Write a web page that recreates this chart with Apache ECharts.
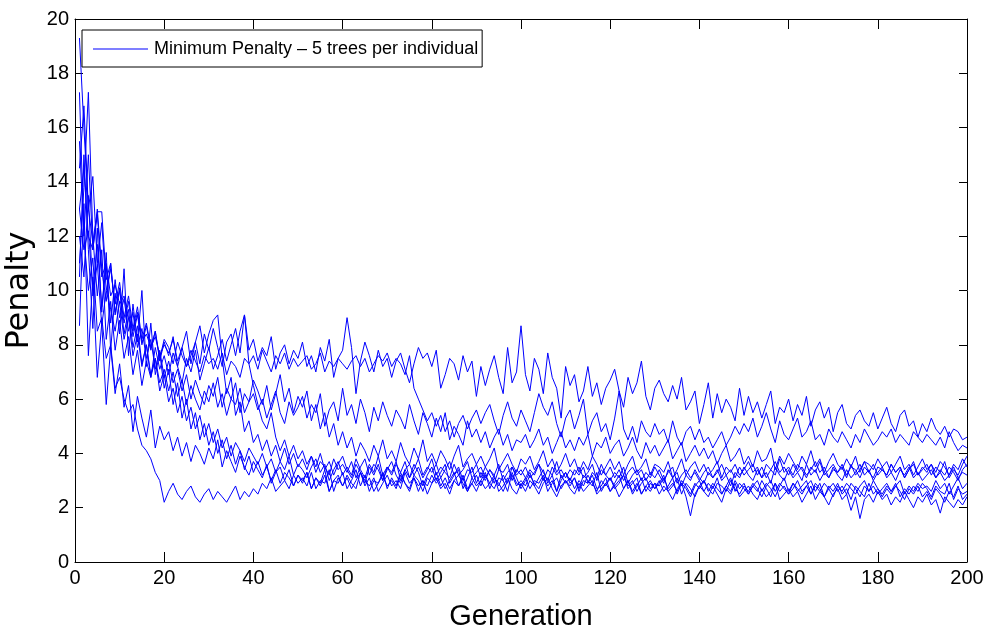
<!DOCTYPE html>
<html>
<head>
<meta charset="utf-8">
<script src="https://cdn.jsdelivr.net/npm/echarts@6/dist/echarts.min.js"></script>
<style>
html,body{margin:0;padding:0;background:#fff;}
#chart{width:989px;height:637px;}
</style>
</head>
<body>
<div id="chart"></div>
<script>
// Generations 1..200
const seriesName = 'Minimum Penalty \u2013 5 trees per individual';
const xTicks = [0,20,40,60,80,100,120,140,160,180,200];
const yTicks = [0,2,4,6,8,10,12,14,16,18,20];

const run1 = [13,14.5,12,11.5,12.8,10.5,11,9.8,10.2,9.5,
9.8,9,8.5,9.2,8.1,8.4,7.9,8.3,7.6,8,
7.7,8.2,7.4,7.9,7.2,7.6,8.1,7.3,8.4,7.8,
8.6,7.9,7.2,8.1,8.4,7.6,8.5,9.1,7.8,8.2,
7.4,7.9,7.6,8.3,7.1,7.7,8,7.3,7.8,7.5,
8.1,7.2,7.6,7,7.9,7.4,8.2,6.8,7.5,7.8,
9,7.9,6.2,7.4,8.1,7.6,7,7.8,7.2,7.5,
6.8,7.4,7.7,7.1,6.6,7.3,7.9,7.5,7.7,7.2,
7.8,6.4,6.9,7.5,7.3,6.7,7.6,7,7.4,6.1,
7.2,6.5,7.1,7.6,6.8,6.2,7.9,6.6,7,8.7,
6.9,6.3,7.5,7.1,6.2,7.7,6.8,6.4,5.3,7.2,
6.5,6.9,5.9,6.3,7.2,6.1,6.6,5.8,6.4,6.7,
7.1,6.3,5.7,6.8,6.2,6.6,7.4,6.1,5.6,6.4,
6.7,6.2,5.9,6.5,6,6.8,5.6,5.9,6.3,5.1,
5.8,6.6,5.3,6.2,5.5,6,5.7,5.2,6.4,5.4,
6.1,5.5,5.9,5.3,5.8,6.3,5.1,5.7,5.5,6,
5.2,5.8,5.4,6.1,5,5.6,5.9,5.3,5.7,4.8,
5.5,5.8,5.1,4.9,5.4,5.6,5.2,5,5.5,4.9,
5.3,5.7,5.1,4.8,5.4,5.6,5,5.2,4.6,5.1,
4.8,5.3,4.9,4.7,5,4.6,4.9,4.8,4.5,4.6];

const run2 = [17.3,12,15,11.5,13,10.8,9.6,11,9.2,10,
8.8,9.6,8.3,9.1,8,8.7,7.8,8.5,7.5,8.2,
7.9,7.3,8.1,7.6,7.2,7.8,7.4,7,7.6,7.3,
7.5,7.1,7.7,6.9,7.4,7.2,6.8,7.5,7.3,7.6,
7.1,7.8,7.4,7,7.6,7.3,7.7,7.1,7.5,7.2,
7.4,7.6,7.1,7.3,7.7,7,7.4,7.2,7.5,7.3,
7.1,7.4,7.6,7.2,7.5,7,7.3,7.6,7.4,7.7,
7.2,7.5,7.3,6.9,7.6,6.4,6,5.6,5.2,5.5,
5,5.4,4.8,5.2,4.6,5.1,5.4,4.9,5.3,5.6,
5.1,5.5,5.8,5.2,4.7,5.4,5.9,5.3,5,5.6,
5.2,4.8,5.5,6.2,5.7,5.4,5.9,5.1,4.6,5.3,
5.6,4.9,5.4,6,4.7,5.2,5.5,4.8,5.1,4.5,
5.3,6.3,4.9,4.5,5,4.4,5.2,4.8,4.6,5.1,
4.7,4.9,4.4,5.2,4.6,4.3,4.8,5,4.5,4.9,
4.4,4.6,4.2,4.5,4.8,4.3,4.6,5,4.7,5.1,
4.8,5.3,4.6,5,5.5,4.9,4.4,5.2,4.7,4.5,
4.9,5.3,4.6,4.8,5.2,4.5,4.7,4.3,4.9,4.6,
4.4,4.8,4.5,4.2,4.7,4.4,4.9,4.6,4.3,4.5,
4.8,4.6,4.9,4.4,4.7,4.5,4.3,4.8,4.6,4.4,
4.7,4.5,4.3,4.6,4.2,4.8,4.4,4.1,4.3,4.2];

const run3 = [12,10.5,13.5,9.8,11,8.7,10,9.3,8.5,9.6,
8.2,9,7.6,8.4,7.2,8,6.8,7.5,6.6,7.1,
6.3,7,6.1,6.7,5.8,6.5,6,5.6,6.3,5.9,
6.6,5.7,6.2,5.4,6,5.8,6.4,5.5,5.9,6.2,
5.6,6,5.3,5.8,6.3,5.5,5.1,5.9,5.4,5.7,
6.1,5.3,5.8,5.5,6.2,5,5.6,5.9,5.2,6.4,
5.4,5.8,5.1,6,5.5,4.8,5.7,5.2,5.9,5.4,
5,5.6,5.3,4.9,5.8,5.2,4.7,5.5,5.1,4.6,
5.3,4.8,5.5,4.5,5,4.7,4.3,5.2,4.6,4.9,
4.4,4.8,4.2,4.6,4.9,4.3,4.7,4.1,4.5,4.4,
4.7,4.2,4.5,4.9,4.3,4.6,4,4.4,4.8,4.2,
4.5,4.1,4.6,4.3,4.7,3.9,4.4,4.2,4.6,4,
4.3,4.5,3.9,4.2,4.6,4.1,3.8,4.4,4,4.3,
3.9,4.2,4.5,3.8,4.1,4.4,3.7,4,4.3,3.9,
4.2,3.8,4.1,3.6,4,4.3,3.7,3.9,4.2,3.6,
3.9,3.5,4.1,3.7,3.8,4.2,3.4,3.9,3.6,4,
3.7,3.4,3.9,3.6,4.1,3.5,3.8,3.3,3.7,4,
3.6,3.4,3.8,3.5,3.9,3.3,3.7,3.6,3.4,3.8,
3.5,3.7,3.3,3.6,3.9,3.4,3.6,3.2,3.5,3.8,
3.4,3.6,3.3,3.7,3.5,3.2,3.6,3.4,3.8,3.5];

const run4 = [15.5,12,10,11.2,8.5,9,7.5,8,6.4,6.8,
6,5.5,5.8,4.9,4.3,4.1,3.8,3.3,3,2.2,
2.6,2.9,2.5,2.3,2.6,2.8,2.4,2.2,2.5,2.7,
2.3,2.6,2.4,2.2,2.5,2.8,2.3,2.6,2.4,2.7,
2.5,2.9,2.7,3.1,2.6,2.8,3,2.7,3.2,2.9,
3.1,2.8,3.3,2.7,3,2.9,3.4,2.6,3.1,2.8,
3.2,2.9,2.7,3.3,3,2.8,3.1,2.6,2.9,3.2,
2.8,3,2.7,3.3,2.9,3.1,2.6,3,2.8,3.2,
2.9,3.1,2.7,3,3.3,2.8,3.1,2.6,2.9,3.2,
2.8,3.2,2.9,2.7,3.1,3,2.6,3.3,2.9,2.8,
3.1,2.7,3,2.9,3.2,2.6,2.9,3.1,2.7,3,
2.8,3.1,2.6,3,2.9,3.2,2.7,2.8,3.1,2.6,
2.9,3.2,2.7,3,2.5,2.8,3.1,2.6,2.9,2.7,
3,2.6,2.8,3.1,2.5,2.9,2.7,2.4,2.8,3,
2.6,2.9,2.7,3.1,2.5,2.8,2.6,3,2.7,2.9,
2.5,2.8,3,2.6,2.9,2.7,2.4,2.8,3.1,2.6,
2.9,2.7,2.5,2.8,3,2.6,2.9,2.4,2.7,2.9,
2.6,2.8,2.5,2.9,2.7,2.4,2.8,2.6,3,2.7,
2.5,2.8,2.6,2.9,2.4,2.7,2.5,2.8,2.6,2.9,
2.7,2.4,2.8,2.6,2.5,2.9,2.3,2.7,2.5,2.6];

const run5 = [19.3,16,13,14.2,11,12.5,10,10.8,9.5,10.3,
9,9.8,8.6,9.4,8.2,8.8,7.9,8.5,7.4,8.1,
7.6,8.3,7.2,7.9,8.5,7.3,8.1,8.7,7.7,8.4,
8.9,9.1,7.5,6.2,6.8,5.4,5.9,4.8,5.2,4.4,
4.7,4.1,4.5,3.9,4.3,3.7,4.2,3.6,4,3.5,
3.8,3.4,3.9,3.3,3.7,3.5,3.2,3.8,3.4,3.6,
3.3,3.7,3.1,3.5,3.8,3.2,3.6,3.4,3,3.5,
3.2,3.6,3.3,3.7,3.1,3.4,3.8,3.2,3.5,3.3,
3.6,3.1,3.4,3.7,3.2,3.5,3,3.4,3.3,3.6,
3.1,3.5,3.2,2.9,3.4,3.3,3.6,3,3.4,3.2,
3.5,3.1,3.3,3.6,3,3.4,3.2,3.7,3.1,3.3,
3,3.4,3.2,3.5,2.9,3.3,3.1,3.6,3.2,3,
3.3,3.1,3.5,2.9,3.2,3.4,3,3.3,3.1,3.5,
3.2,2.9,3.4,3.1,3.3,2.8,3.2,3,3.4,3.1,
2.9,3.3,3.1,3.4,3,3.2,2.8,3.3,3.1,3.5,
3.2,3,3.4,3.1,3.3,2.9,3.5,3.2,3,3.4,
3.1,3.3,3,3.6,3.2,3.4,3,3.3,3.1,3.5,
3.2,3,3.4,3.1,3.3,3.6,3.2,3.4,3,3.3,
3.5,3.1,3.3,3,3.4,3.2,3.5,3.1,3.3,3,
3.2,3.4,3.1,3.3,3,3.2,3.5,3.1,3.3,3.2];

const run6 = [11,13.8,17.3,12,9.8,11.5,8.2,9.6,7.8,8.9,
7.5,8.3,6.9,7.8,6.5,7.4,6.8,7.9,7.1,7.6,
6.9,7.7,7.2,6.6,7.5,7,7.8,6.7,7.3,7.9,
7.1,7.6,8.2,7.4,8,8.6,7.7,9.1,7.3,6.5,
5.8,5.2,4.9,5.5,4.6,4.1,4.5,3.9,4.3,3.8,
4.1,3.6,3.9,3.5,4,3.4,3.7,3.2,3.6,3.9,
3.4,3.1,3.6,3.3,2.9,3.5,3.2,3.6,3,3.4,
3.7,3.2,2.9,3.4,3.1,3.6,3.3,2.8,3.2,3.5,
3,3.3,3.6,2.9,3.2,3.4,2.7,3.1,3.5,2.9,
3.3,3,3.4,3.1,2.8,3.2,2.9,3.5,3.1,2.7,
3,3.3,2.8,3.1,3.4,2.9,3.2,2.6,3,3.3,
2.9,3.1,2.7,3.2,3,2.8,3.3,2.6,2.9,3.1,
2.8,3,3.2,2.7,2.9,3.1,2.5,2.8,3,2.7,
2.9,3.2,2.6,2.8,3.1,2.5,2.9,2.7,2.4,2.8,
3,2.6,2.9,2.7,2.5,2.8,3.1,2.6,2.9,2.7,
2.5,2.8,2.6,3,2.7,2.4,2.9,2.6,2.8,2.5,
2.7,3,2.6,2.8,2.5,2.9,2.7,2.4,2.8,2.6,
2.9,2.5,2.7,2.3,2.8,2.6,2.4,2.9,2.5,2.7,
2.4,2.7,2.5,2.8,2.6,2.3,2.7,2.5,2.8,2.4,
2.6,2.3,2.7,2.5,2.2,2.6,2.4,2.8,2.3,2.5];

const run7 = [14.5,16.8,13,11.8,12.9,12.9,10.4,11,9.1,10.1,
8.4,9.3,7.9,8.7,7.3,8,6.9,7.5,6.3,6.9,
5.9,6.4,5.5,6.1,5.2,5.7,4.9,5.4,4.6,5.1,
4.4,4.9,4.2,4.6,3.9,4.4,4.1,3.7,4.2,3.9,
3.6,4,3.5,3.8,3.3,3.7,3.4,3.9,3.2,3.6,
3.4,3.1,3.5,3.8,3.3,3.6,3,3.4,3.7,3.2,
3.5,3.2,3.8,3.4,3.1,3.6,3.3,3.9,3.2,3.5,
3.3,3.7,3,3.4,3.6,3.2,3.5,3.1,3.4,3.8,
3.2,3.5,3.3,3.1,3.6,3.2,3.4,3.7,3.1,3.3,
3.5,3.1,3.4,3.2,3.6,3,3.3,3.5,3.2,3.4,
3.1,3.4,3.2,3.6,3.3,3,3.5,3.2,3.4,3.1,
3.4,3.2,3.5,3.1,3.3,3.6,3,3.4,3.2,3.5,
3.1,3.4,3,3.3,3.5,3.2,3.4,3,3.3,3.1,
3.4,3,3.3,3.5,2.9,3.2,3.4,3.1,3.3,3,
3.3,3.5,3.1,3.3,3.6,3.2,3.4,3.1,3.5,3.2,
3.4,3.6,3.2,3.5,3.1,3.4,3.7,3.3,3.5,3.2,
3.6,3.3,3.5,3.2,3.4,3.7,3.3,3.5,3.1,3.4,
3.3,3.6,3.2,3.5,3.4,3.1,3.5,3.3,3.6,3.2,
3.4,3.2,3.6,3.3,3.5,3.1,3.4,3.6,3.2,3.5,
3.3,3.6,3.1,3.4,3.2,3.5,3.3,3,3.4,3.6];

const run8 = [8.7,13.2,7.6,10.5,6.8,8.8,5.8,7.9,6.2,7.3,
5.7,6.5,4.8,6.1,5.3,4.6,5.6,4.2,5,4.5,
4.8,4.1,4.6,3.9,4.4,3.7,4.3,4,3.6,4.2,
3.8,4.5,3.5,4.1,3.7,3.3,3.9,3.5,3.2,3.7,
3.4,3.1,3.6,2.9,3.3,3.5,3,3.4,2.8,3.2,
3,3.3,2.7,3.1,2.9,3.4,2.6,3,3.2,2.8,
3.1,2.7,3,3.3,2.8,3.1,2.6,2.9,3.2,2.8,
3,2.7,3.2,2.9,2.6,3.1,2.8,3,2.5,2.9,
3.1,2.7,2.9,2.5,3,2.8,3.2,2.7,2.9,2.6,
3,2.7,2.9,3.2,2.6,2.8,3.1,2.7,2.5,2.9,
2.6,3,2.8,2.5,2.9,3.1,2.7,2.4,2.8,3,
2.7,2.5,2.9,2.6,2.8,3,2.5,2.7,2.9,2.6,
2.8,2.4,2.7,3,2.6,2.9,2.5,2.8,2.6,2.9,
2.5,2.8,2.6,2.3,2.7,2.9,2.4,1.7,2.5,2.8,
2.6,2.4,2.8,2.5,2.2,2.7,2.5,2.9,2.4,2.6,
2.8,2.5,2.3,2.7,2.4,2.6,2.9,2.3,2.5,2.7,
2.4,2.6,2.2,2.5,2.8,2.3,2.6,2.4,2.1,2.5,
2.7,2.3,2.5,1.9,2.4,1.6,2.3,2.5,2.2,2.6,
2.3,2.5,2.1,2.4,2.2,2.6,2.3,2,2.4,2.2,
2.5,2.1,2.3,1.8,2.4,2.2,2,2.3,2.1,2.4];

const run9 = [13,11.5,12.2,10,11.7,9.4,10.9,8.8,10.4,9,
9.7,8.5,9.2,7.9,8.6,7.5,8.2,7.1,7.8,6.8,
7.4,6.6,7.1,6.3,6.9,6,6.7,6.2,5.8,6.5,
6.1,6.8,5.7,6.4,6,6.6,5.5,6.2,5.9,6.7,
6.3,5.8,6.5,5.6,6.2,6.9,5.9,6.4,5.5,6.1,
5.7,6.3,5.2,5.8,4.9,5.5,4.6,5.1,4.3,4.8,
4.2,4.6,3.9,4.4,4.1,3.7,4.3,3.9,4.5,3.8,
4.1,3.7,4.4,3.9,3.6,4.2,3.8,4.5,3.7,4,
3.6,4.1,3.8,3.4,3.9,4.3,3.5,3.8,4,3.6,
3.9,3.5,3.8,4.2,3.4,3.7,4,3.6,3.3,3.8,
3.6,3.9,3.4,3.7,4.1,3.5,3.8,3.3,3.6,4,
3.5,3.8,3.3,3.7,3.4,3.9,3.6,3.2,3.5,3.8,
3.4,3.7,3.2,3.6,3.9,3.3,3.5,3.8,3.2,3.6,
3.5,3.3,3.7,3.1,3.4,3.8,3.2,3.5,3.7,3.3,
3.6,3.2,3.4,3.7,3.1,3.5,3.3,3.6,3.2,3.4,
3.7,3.3,3.5,3.1,3.6,3.4,3.2,3.8,3.3,3.5,
3.2,3.6,3.4,3.1,3.5,3.3,3.7,3.2,3.4,3.6,
3.3,3.5,3.1,3.6,3.2,3.4,3.7,3.3,3.1,3.5,
3.4,3.2,3.6,3.3,3.5,3.1,3.4,3.7,3.2,3.4,
3.6,3.2,3.5,3.3,3.7,3.1,3.4,3.2,3.6,3.9];

const run10 = [10.5,15,11.5,8.6,12.3,9.2,11.4,7.8,9.9,8.4,
10.8,7.6,9.5,8.1,10,7.2,8.8,6.9,7.7,6.4,
7.1,5.8,6.6,5.3,6,4.9,5.5,4.5,5.1,4.3,
4.8,4,4.5,3.8,4.3,3.6,4.1,3.4,3.9,3.3,
3.7,3.2,3.5,3,3.4,2.9,3.3,3.1,2.8,3.2,
2.9,3.3,2.7,3.1,2.8,3.2,2.6,3,2.9,3.3,
2.7,3,3.4,2.8,3.2,2.6,3,2.9,3.3,2.7,
3.1,2.8,3.3,2.9,2.7,3.2,3,2.6,3.1,2.9,
3.3,2.8,3.1,2.7,3,3.2,2.9,2.6,3.1,2.8,
3,3.3,2.7,3.1,2.9,2.6,3,3.2,2.8,3,
2.8,3.2,2.9,2.7,3.1,2.8,3,2.6,3.2,2.9,
3.1,2.7,3,2.8,3.2,2.9,2.6,3,2.8,3.1,
2.7,2.9,3.2,2.8,3,2.6,2.9,3.1,2.7,2.9,
2.8,3.1,2.7,2.9,2.6,3,2.8,2.5,2.9,2.7,
3,2.7,2.5,2.9,2.8,2.6,3,2.7,2.5,2.8,
2.6,2.9,2.7,2.4,2.8,3,2.6,2.9,2.7,2.5,
2.9,2.6,2.8,3,2.5,2.8,2.6,2.9,2.7,2.4,
2.8,2.6,2.9,2.7,2.5,2.8,3,2.6,2.8,2.5,
2.7,2.9,2.6,2.8,3,2.5,2.8,2.6,2.9,2.7,
2.8,2.6,3,2.7,2.9,2.5,2.8,3.1,2.7,2.9];

const runs = [run1, run2, run3, run4, run5, run6, run7, run8, run9, run10];

const sans = '"Liberation Sans", Arial, Helvetica, sans-serif';

const chart = echarts.init(document.getElementById('chart'), null, {renderer: 'canvas'});

const series = runs.map(r => ({
  name: seriesName,
  type: 'line',
  data: r.map((v, i) => [i + 1, v]),
  symbol: 'none',
  showSymbol: false,
  animation: false,
  lineStyle: {color: '#0000ff', width: 1},
  itemStyle: {color: '#0000ff'},
  xAxisIndex: 0,
  yAxisIndex: 0
}));

const axisLineStyle = {color: '#000', width: 1};

chart.setOption({
  backgroundColor: '#fff',
  animation: false,
  grid: {left: 75, right: 22, top: 19, bottom: 75, show: false, containLabel: false, outerBoundsMode: 'none'},
  legend: {
    data: [{name: seriesName, icon: 'rect'}],
    left: 82, top: 30,
    orient: 'horizontal',
    backgroundColor: '#fff',
    borderColor: '#000',
    borderWidth: 1,
    borderRadius: 0,
    padding: [9, 4, 8, 11],
    itemWidth: 55,
    itemHeight: 1.2,
    itemGap: 0,
    itemStyle: {color: '#0000ff', borderWidth: 0},
    textStyle: {fontFamily: sans, fontSize: 18, color: '#000', padding: [0, 0, 0, 1], lineHeight: 20}
  },
  xAxis: [{
    type: 'value', min: 0, max: 200, interval: 20,
    axisLine: {show: true, onZero: false, lineStyle: axisLineStyle},
    axisTick: {show: true, inside: true, length: 10, lineStyle: {color: '#000'}},
    axisLabel: {fontFamily: sans, fontSize: 20, color: '#000', margin: 6,
      formatter: v => xTicks.indexOf(v) >= 0 ? String(v) : ''},
    splitLine: {show: false},
    name: 'Generation', nameLocation: 'middle', nameGap: 40,
    nameTextStyle: {fontFamily: sans, fontSize: 29, color: '#000'}
  }, {
    type: 'value', min: 0, max: 200, interval: 20, position: 'top',
    axisLine: {show: true, onZero: false, lineStyle: axisLineStyle},
    axisTick: {show: true, inside: true, length: 10, lineStyle: {color: '#000'}},
    axisLabel: {show: false}, splitLine: {show: false}
  }],
  yAxis: [{
    type: 'value', min: 0, max: 20, interval: 2,
    axisLine: {show: true, onZero: false, lineStyle: axisLineStyle},
    axisTick: {show: true, inside: true, length: 8, lineStyle: {color: '#000'}},
    axisLabel: {fontFamily: sans, fontSize: 20, color: '#000', margin: 6,
      formatter: v => yTicks.indexOf(v) >= 0 ? String(v) : ''},
    splitLine: {show: false},
    name: 'Penalty', nameLocation: 'middle', nameGap: 37, nameRotate: 90,
    nameTextStyle: {fontFamily: '"DejaVu Sans", sans-serif', fontSize: 32, color: '#000'}
  }, {
    type: 'value', min: 0, max: 20, interval: 2, position: 'right',
    axisLine: {show: true, onZero: false, lineStyle: axisLineStyle},
    axisTick: {show: true, inside: true, length: 8, lineStyle: {color: '#000'}},
    axisLabel: {show: false}, splitLine: {show: false}
  }],
  series: series
});
</script>
</body>
</html>
